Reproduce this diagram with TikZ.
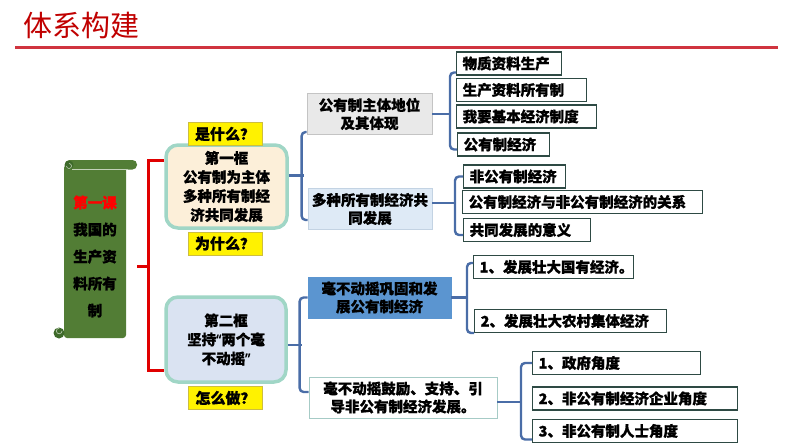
\documentclass[tikz,border=0pt]{standalone}
\usepackage{fontspec}
\setmainfont{Noto Sans CJK SC}[BoldFeatures={FakeBold=1}]
\newfontfamily\quotefont{Noto Sans}[FakeBold=1]
\definecolor{titlered}{HTML}{C00000}
\definecolor{linered}{HTML}{D0343F}
\definecolor{bracketred}{HTML}{E00000}
\definecolor{scrollgreen}{HTML}{527D35}
\definecolor{scrolldark}{HTML}{3E6A2A}
\definecolor{framerim}{HTML}{A0D6C6}
\definecolor{creamfill}{HTML}{FCEFD9}
\definecolor{paleblue}{HTML}{DAE3F2}
\definecolor{askline}{HTML}{CDBE40}
\definecolor{graybox}{HTML}{E9E9E9}
\definecolor{grayline}{HTML}{C4C4C4}
\definecolor{bluebox}{HTML}{DEEAF6}
\definecolor{blueline}{HTML}{C3D3E3}
\definecolor{steel}{HTML}{5B95D0}
\definecolor{tealline}{HTML}{A6CBC6}
\definecolor{kidline}{HTML}{2E4A44}
\definecolor{brkblue}{HTML}{4A6DA7}

\begin{document}
\begin{tikzpicture}[x=1pt,y=-1pt]
\tikzstyle{kid}=[draw=kidline, line width=1.3pt, fill=white, anchor=west, inner xsep=6pt, inner ysep=0pt, minimum height=23pt, align=left, font=\fontsize{14.5}{17}\selectfont\bfseries]
\tikzstyle{frame}=[draw=framerim, line width=3.5pt, rounded corners=12pt, align=center, inner sep=0pt, font=\fontsize{14.5}{19}\selectfont\bfseries]
\tikzstyle{ask}=[draw=askline, line width=0.6pt, fill=yellow, minimum width=74pt, minimum height=23pt, inner sep=0pt, font=\fontsize{15}{17}\selectfont\bfseries]
\tikzstyle{part}=[line width=0.8pt, minimum height=41pt, align=center, inner sep=0pt, font=\fontsize{14.5}{18}\selectfont\bfseries]
\tikzstyle{brk}=[draw=brkblue, line width=2.4pt, rounded corners=4pt]
\tikzstyle{redbrk}=[draw=bracketred, line width=3pt]
\useasboundingbox (0,0) rectangle (794,447);

% heading
\node[font=\fontsize{29}{32}\selectfont, text=titlered] (title) at (81,25) {体系构建};
\draw[draw=linered, line width=3pt] (15,47) -- (778,47);

% scroll
\fill[scrollgreen, rounded corners=3pt] (64,165) rectangle (126,338);
\fill[scrollgreen, rounded corners=4.5pt] (65,160) rectangle (137,169.5);
\draw[white!65!scrollgreen, line width=0.6pt] (72,169.5) -- (128,169.5);
\fill[scrolldark] (69,165) circle (4.5);
\draw[white!65!scrollgreen, line width=0.6pt] (66.5,166) arc (180:-90:2.5);
\fill[scrolldark] (59,333) circle (5.5);
\draw[white!65!scrollgreen, line width=0.6pt] (62,331) arc (0:270:2.8);
\node[align=center, font=\fontsize{14.5}{27}\selectfont\bfseries] (scroll) at (95,256.5)
  {\textcolor{red}{第一课}\\我国的\\生产资\\料所有\\制};

% frames and questions
\node[frame, fill=creamfill, minimum width=121pt, minimum height=83pt] (f1) at (226.5,186.5)
  {第一框\\公有制为主体\\多种所有制经\\济共同发展};
\node[frame, fill=paleblue, minimum width=120pt, minimum height=85pt] (f2) at (226,339.5)
  {第二框\\坚持{\quotefont“}两个毫\\不动摇{\quotefont”}};
\node[ask] (q1) at (225,134) {是什么？};
\node[ask] (q2) at (225,243.5) {为什么？};
\node[ask] (q3) at (225.5,398) {怎么做？};

% parts
\node[part, fill=graybox, draw=grayline, minimum width=125pt] (pA) at (369.5,114) {公有制主体地位\\及其体现};
\node[part, fill=bluebox, draw=blueline, minimum width=124pt] (pB) at (370,209) {多种所有制经济共\\同发展};
\node[part, fill=steel, draw=steel, minimum width=143pt] (pC) at (379.5,297.5) {毫不动摇巩固和发\\展公有制经济};
\node[part, fill=white, draw=tealline, minimum width=188pt] (pD) at (403,397.5) {毫不动摇鼓励、支持、引\\导非公有制经济发展。};

% leaves
\node[kid, text width=93pt] (c1) at (456,63.5) {物质资料生产};
\node[kid, text width=118pt] (c2) at (456,90) {生产资料所有制};
\node[kid, text width=128pt] (c3) at (456,116.5) {我要基本经济制度};
\node[kid, text width=80pt] (c4) at (457,144.5) {公有制经济};
\node[kid, text width=90pt] (c5) at (463,176.5) {非公有制经济};
\node[kid, text width=228pt] (c6) at (462,202) {公有制经济与非公有制经济的关系};
\node[kid, text width=115pt] (c7) at (463,230) {共同发展的意义};
\node[kid, text width=148pt] (c8) at (473,267) {1、发展壮大国有经济。};
\node[kid, text width=180pt] (c9) at (474,321) {2、发展壮大农村集体经济};
\node[kid, text width=156pt] (c10) at (532,363) {1、政府角度};
\node[kid, text width=193pt] (c11) at (532,398.5) {2、非公有制经济企业角度};
\node[kid, text width=193pt] (c12) at (532,431) {3、非公有制人士角度};

% red bracket
\coordinate (rt) at (137,266);
\coordinate (rb) at (150,266);
\draw[redbrk] ([yshift=26pt]f1.west) -- ++(-16,0) |- ([yshift=-31pt]f2.west);
\draw[redbrk] (rt) -- (rb);

% blue brackets
\draw[brk] ([yshift=11pt]f1.east) -- ++(15,0);
\draw[brk] ([yshift=-18pt]pA.west) -- ++(-5,0) |- ([yshift=-11pt]pB.west);
\draw[brk] (pA.east) -- ++(18,0);
\draw[brk] ([yshift=-9pt]c1.west) -- ++(-6,0) |- ([yshift=-5pt]c4.west);
\draw[brk] ([yshift=6pt]pB.east) -- ++(23,0);
\draw[brk] (c5.west) -- ++(-8,0) |- ([yshift=-5pt]c7.west);
\draw[brk] ([yshift=-5.5pt]f2.east) -- ++(14,0);
\draw[brk] (pC.west) -- ++(-8,0) |- ([yshift=5.5pt]pD.west);
\draw[brk] (pC.east) -- ++(16,0);
\draw[brk] ([yshift=4pt]c8.west) -- ++(-6,0) |- ([yshift=-12pt]c9.west);
\draw[brk] ([yshift=-4.5pt]pD.east) -- ++(24,0);
\draw[brk] (c10.west) -- ++(-11,0) |- ([yshift=-8.5pt]c12.west);
\end{tikzpicture}
\end{document}
